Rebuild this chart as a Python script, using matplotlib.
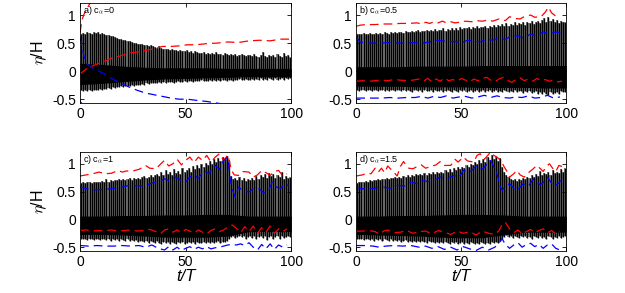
import numpy as np
import matplotlib.pyplot as plt

plt.rcParams['font.family'] = ['Liberation Sans', 'DejaVu Sans']
plt.rcParams['mathtext.fontset'] = 'cm'

# wave crest / trough of each period (t/T = 0.5 ... 99.5)
crest_a = [0.66, 0.68, 0.67, 0.69, 0.68, 0.67, 0.69, 0.68, 0.70, 0.67,
           0.68, 0.66, 0.65, 0.64, 0.63, 0.62, 0.60, 0.59, 0.58, 0.57,
           0.56, 0.55, 0.54, 0.53, 0.52, 0.51, 0.50, 0.49, 0.48, 0.48,
           0.47, 0.46, 0.45, 0.46, 0.44, 0.43, 0.42, 0.44, 0.41, 0.40,
           0.40, 0.39, 0.38, 0.40, 0.37, 0.37, 0.36, 0.38, 0.35, 0.36,
           0.37, 0.34, 0.35, 0.33, 0.36, 0.34, 0.33, 0.32, 0.34, 0.31,
           0.32, 0.30, 0.33, 0.31, 0.34, 0.30, 0.31, 0.29, 0.32, 0.30,
           0.29, 0.31, 0.28, 0.30, 0.27, 0.29, 0.30, 0.28, 0.27, 0.29,
           0.28, 0.27, 0.30, 0.27, 0.26, 0.28, 0.34, 0.27, 0.26, 0.29,
           0.27, 0.28, 0.26, 0.30, 0.27, 0.26, 0.32, 0.27, 0.28, 0.26]
trough_a = [-0.33, -0.35, -0.34, -0.36, -0.34, -0.35, -0.33, -0.34, -0.33, -0.32,
            -0.33, -0.31, -0.32, -0.30, -0.31, -0.29, -0.30, -0.28, -0.29, -0.27,
            -0.28, -0.27, -0.26, -0.27, -0.25, -0.26, -0.24, -0.25, -0.24, -0.23,
            -0.24, -0.22, -0.23, -0.22, -0.21, -0.22, -0.21, -0.20, -0.21, -0.20,
            -0.21, -0.19, -0.20, -0.19, -0.21, -0.19, -0.18, -0.20, -0.19, -0.18,
            -0.19, -0.18, -0.17, -0.19, -0.18, -0.17, -0.18, -0.16, -0.18, -0.17,
            -0.17, -0.16, -0.18, -0.16, -0.17, -0.15, -0.17, -0.16, -0.15, -0.17,
            -0.16, -0.15, -0.17, -0.15, -0.16, -0.14, -0.16, -0.15, -0.14, -0.16,
            -0.15, -0.14, -0.16, -0.14, -0.15, -0.13, -0.16, -0.14, -0.15, -0.13,
            -0.14, -0.15, -0.13, -0.15, -0.14, -0.13, -0.15, -0.13, -0.14, -0.13]

crest_b = [0.66, 0.67, 0.66, 0.68, 0.67, 0.66, 0.68, 0.67, 0.66, 0.68,
           0.67, 0.68, 0.67, 0.69, 0.68, 0.67, 0.69, 0.68, 0.70, 0.68,
           0.69, 0.70, 0.68, 0.71, 0.69, 0.70, 0.72, 0.69, 0.71, 0.73,
           0.70, 0.72, 0.71, 0.74, 0.72, 0.73, 0.71, 0.75, 0.72, 0.74,
           0.73, 0.76, 0.72, 0.75, 0.74, 0.77, 0.73, 0.76, 0.74, 0.78,
           0.75, 0.77, 0.76, 0.79, 0.75, 0.78, 0.77, 0.80, 0.76, 0.79,
           0.78, 0.81, 0.77, 0.80, 0.79, 0.83, 0.78, 0.82, 0.80, 0.84,
           0.81, 0.85, 0.80, 0.84, 0.83, 0.87, 0.82, 0.86, 0.84, 0.88,
           0.83, 0.87, 0.85, 0.89, 0.84, 0.88, 0.90, 0.86, 0.91, 0.94,
           0.88, 0.97, 0.90, 0.93, 0.87, 0.91, 0.86, 0.89, 0.87, 0.88]
trough_b = [-0.33, -0.35, -0.34, -0.33, -0.35, -0.34, -0.33, -0.35, -0.34, -0.33,
            -0.35, -0.33, -0.34, -0.36, -0.33, -0.35, -0.34, -0.33, -0.36, -0.34,
            -0.33, -0.35, -0.34, -0.36, -0.33, -0.35, -0.37, -0.34, -0.33, -0.36,
            -0.34, -0.37, -0.33, -0.35, -0.36, -0.34, -0.38, -0.33, -0.35, -0.36,
            -0.34, -0.37, -0.35, -0.33, -0.36, -0.38, -0.34, -0.35, -0.37, -0.33,
            -0.36, -0.34, -0.38, -0.35, -0.33, -0.37, -0.35, -0.34, -0.38, -0.36,
            -0.34, -0.37, -0.35, -0.33, -0.38, -0.36, -0.34, -0.37, -0.35, -0.38,
            -0.34, -0.36, -0.38, -0.35, -0.37, -0.34, -0.38, -0.36, -0.35, -0.39,
            -0.36, -0.38, -0.35, -0.39, -0.37, -0.36, -0.40, -0.38, -0.41, -0.37,
            -0.40, -0.42, -0.38, -0.41, -0.39, -0.37, -0.40, -0.36, -0.38, -0.37]

crest_c = [0.66, 0.67, 0.66, 0.68, 0.67, 0.66, 0.68, 0.67, 0.68, 0.67,
           0.69, 0.68, 0.72, 0.68, 0.70, 0.69, 0.71, 0.70, 0.72, 0.70,
           0.73, 0.71, 0.72, 0.74, 0.71, 0.74, 0.73, 0.75, 0.72, 0.76,
           0.78, 0.74, 0.77, 0.80, 0.76, 0.79, 0.82, 0.78, 0.85, 0.80,
           0.88, 0.82, 0.86, 0.80, 0.90, 0.84, 0.87, 0.82, 0.92, 0.86,
           0.88, 0.93, 0.86, 0.96, 0.90, 0.98, 0.92, 1.00, 0.95, 1.02,
           0.97, 1.05, 1.00, 1.08, 1.03, 1.10, 1.05, 1.12, 1.08, 1.14,
           1.06, 0.78, 0.72, 0.75, 0.70, 0.76, 0.71, 0.74, 0.69, 0.72,
           0.70, 0.74, 0.71, 0.78, 0.73, 0.80, 0.76, 0.82, 0.75, 0.84,
           0.78, 0.82, 0.74, 0.80, 0.76, 0.85, 0.72, 0.78, 0.74, 0.76]
trough_c = [-0.35, -0.36, -0.35, -0.37, -0.36, -0.35, -0.37, -0.36, -0.35, -0.37,
            -0.36, -0.35, -0.37, -0.36, -0.38, -0.35, -0.37, -0.36, -0.38, -0.36,
            -0.37, -0.39, -0.36, -0.38, -0.37, -0.39, -0.37, -0.40, -0.38, -0.39,
            -0.40, -0.38, -0.42, -0.39, -0.41, -0.43, -0.39, -0.42, -0.44, -0.40,
            -0.43, -0.41, -0.44, -0.40, -0.42, -0.45, -0.41, -0.43, -0.40, -0.44,
            -0.42, -0.40, -0.43, -0.41, -0.44, -0.40, -0.42, -0.43, -0.40, -0.42,
            -0.41, -0.43, -0.40, -0.42, -0.41, -0.39, -0.42, -0.40, -0.41, -0.38,
            -0.36, -0.32, -0.30, -0.33, -0.31, -0.29, -0.32, -0.30, -0.35, -0.31,
            -0.29, -0.33, -0.30, -0.36, -0.31, -0.29, -0.34, -0.30, -0.37, -0.31,
            -0.30, -0.35, -0.31, -0.29, -0.36, -0.30, -0.33, -0.31, -0.29, -0.32]

crest_d = [0.66, 0.67, 0.68, 0.67, 0.69, 0.68, 0.70, 0.69, 0.71, 0.70,
           0.72, 0.71, 0.73, 0.72, 0.74, 0.73, 0.75, 0.74, 0.76, 0.74,
           0.76, 0.75, 0.78, 0.76, 0.79, 0.77, 0.80, 0.78, 0.81, 0.79,
           0.82, 0.79, 0.83, 0.80, 0.84, 0.81, 0.85, 0.82, 0.86, 0.83,
           0.86, 0.84, 0.88, 0.85, 0.90, 0.86, 0.92, 0.88, 0.94, 0.90,
           0.95, 0.92, 0.98, 0.94, 1.00, 0.97, 1.03, 0.99, 1.06, 1.02,
           1.08, 1.04, 1.12, 1.06, 1.15, 1.08, 1.13, 1.05, 1.10, 0.95,
           0.86, 0.80, 0.76, 0.72, 0.70, 0.73, 0.69, 0.72, 0.70, 0.74,
           0.72, 0.76, 0.74, 0.79, 0.76, 0.82, 0.78, 0.87, 0.80, 0.84,
           0.82, 0.86, 0.80, 0.88, 0.83, 0.86, 0.84, 0.90, 0.86, 0.92]
trough_d = [-0.35, -0.36, -0.35, -0.37, -0.36, -0.35, -0.37, -0.36, -0.38, -0.36,
            -0.37, -0.35, -0.38, -0.36, -0.37, -0.39, -0.36, -0.38, -0.37, -0.39,
            -0.37, -0.40, -0.38, -0.37, -0.40, -0.38, -0.41, -0.38, -0.40, -0.39,
            -0.41, -0.38, -0.40, -0.42, -0.39, -0.41, -0.40, -0.43, -0.40, -0.42,
            -0.41, -0.43, -0.40, -0.42, -0.44, -0.41, -0.43, -0.40, -0.44, -0.42,
            -0.41, -0.44, -0.42, -0.45, -0.41, -0.43, -0.45, -0.42, -0.44, -0.41,
            -0.43, -0.45, -0.42, -0.44, -0.41, -0.43, -0.40, -0.42, -0.38, -0.35,
            -0.31, -0.28, -0.32, -0.30, -0.33, -0.29, -0.31, -0.34, -0.30, -0.32,
            -0.29, -0.33, -0.31, -0.35, -0.30, -0.32, -0.34, -0.29, -0.33, -0.31,
            -0.35, -0.30, -0.32, -0.36, -0.31, -0.33, -0.29, -0.34, -0.31, -0.30]

# densest (solid black) part of the record, every 10 T
core_t = [0, 10, 20, 30, 40, 50, 60, 70, 80, 90, 100]
core_hi = {'a': [0.14, 0.12, 0.09, 0.07, 0.06, 0.06, 0.06, 0.05, 0.05, 0.05, 0.05],
           'b': [0.08, 0.08, 0.08, 0.09, 0.09, 0.09, 0.10, 0.10, 0.10, 0.10, 0.10],
           'c': [0.06, 0.06, 0.07, 0.07, 0.08, 0.08, 0.09, 0.09, 0.06, 0.06, 0.06],
           'd': [0.06, 0.06, 0.07, 0.07, 0.08, 0.09, 0.09, 0.08, 0.06, 0.06, 0.06]}
core_lo = {'a': [-0.24, -0.22, -0.19, -0.16, -0.14, -0.13, -0.12, -0.11, -0.10, -0.10, -0.10],
           'b': [-0.27, -0.27, -0.27, -0.28, -0.28, -0.28, -0.29, -0.29, -0.29, -0.30, -0.30],
           'c': [-0.27, -0.27, -0.28, -0.30, -0.32, -0.32, -0.32, -0.30, -0.22, -0.22, -0.22],
           'd': [-0.27, -0.28, -0.29, -0.30, -0.32, -0.33, -0.33, -0.28, -0.23, -0.23, -0.23]}

# dashed envelopes (t/T, eta/H)
red_up = {
    'a': [(0, 0.68), (1, 0.92), (2, 1.02), (3, 1.10), (4, 1.16), (5, 1.23)],
    'b': [(0, 0.80), (2, 0.82), (5, 0.83), (9, 0.83), (13, 0.84), (17, 0.84), (21, 0.85),
          (25, 0.85), (29, 0.86), (31, 0.84), (33, 0.87), (35, 0.85), (37, 0.88), (39, 0.86),
          (41, 0.89), (43, 0.86), (45, 0.88), (47, 0.86), (49, 0.87), (52, 0.89), (55, 0.88),
          (57, 0.90), (60, 0.89), (63, 0.91), (65, 0.89), (68, 0.93), (71, 0.90), (73, 0.97),
          (75, 0.94), (78, 0.93), (80, 0.97), (83, 1.00), (85, 0.96), (88, 0.97), (90, 1.05),
          (91.5, 1.14), (93, 1.04), (95, 0.98), (97, 1.00)],
    'c': [(0, 0.78), (3, 0.80), (6, 0.82), (9, 0.85), (12, 0.82), (15, 0.83), (18, 0.88),
          (20, 0.85), (22, 0.87), (25, 0.87), (28, 0.90), (31, 0.97), (33, 0.92), (36, 0.91),
          (38, 0.99), (40, 1.06), (42, 0.96), (44, 1.00), (46, 1.08), (48, 0.98), (50, 1.06),
          (52, 1.12), (54, 1.02), (56, 1.12), (58, 1.06), (60, 1.15), (62, 1.03), (64, 1.12),
          (66, 1.18), (68, 1.06), (70, 1.16), (71.5, 0.90), (73, 0.80), (75, 0.79), (77, 0.86),
          (80, 0.85), (82, 0.76), (84, 0.80), (86, 0.88), (88, 0.84), (90, 0.79), (92, 0.86),
          (94, 0.88), (96, 0.78), (98, 0.82)],
    'd': [(0, 0.78), (3, 0.80), (5, 0.83), (7, 0.82), (9, 0.92), (10.5, 0.85), (12, 0.92),
          (13.5, 0.84), (15, 0.96), (17, 0.88), (19.5, 0.78), (21, 0.95), (22.5, 1.04),
          (25, 0.92), (27, 0.91), (29, 0.95), (31, 0.98), (33, 0.92), (35.5, 0.95), (38, 0.98),
          (40, 1.04), (42, 0.97), (45, 0.97), (47, 1.08), (48.5, 1.03), (51, 1.12), (53, 1.05),
          (56, 1.03), (57.5, 1.15), (59, 1.18), (61, 1.08), (64, 1.21), (65.5, 1.15), (67, 1.12),
          (69, 1.05), (70.5, 0.94), (72, 0.85), (73, 0.76), (75, 0.82), (76.5, 0.88), (78, 0.80),
          (80, 0.76), (82, 0.84), (84, 0.90), (86, 0.97), (88, 0.90), (89, 0.86), (90.5, 0.95),
          (92, 1.00), (93.5, 0.92), (95, 0.86), (96.5, 0.97), (98, 0.95)],
}
red_lo = {
    'a': [(0, -0.05), (3, 0.04), (7, 0.11), (11, 0.17), (15, 0.23), (19, 0.27), (23, 0.32),
          (27, 0.34), (31, 0.37), (35, 0.40), (39, 0.44), (43, 0.44), (47, 0.45), (51, 0.47),
          (55, 0.47), (60, 0.49), (65, 0.50), (70, 0.52), (75, 0.51), (80, 0.54), (85, 0.55),
          (90, 0.54), (95, 0.57), (100, 0.57)],
    'b': [(0, -0.18), (3, -0.17), (6, -0.18), (9, -0.17), (12, -0.16), (15, -0.17), (18, -0.15),
          (21, -0.16), (24, -0.17), (27, -0.16), (30, -0.14), (32, -0.18), (34, -0.13),
          (36, -0.19), (38, -0.14), (40, -0.18), (42, -0.12), (44, -0.17), (46, -0.15),
          (48, -0.18), (50, -0.13), (52, -0.16), (54, -0.19), (56, -0.14), (58, -0.17),
          (60, -0.13), (62, -0.11), (64, -0.16), (66, -0.19), (68, -0.14), (70, -0.11),
          (72, -0.16), (74, -0.20), (76, -0.15), (78, -0.12), (80, -0.17), (82, -0.14),
          (84, -0.18), (86, -0.13), (88, -0.17), (90, -0.15), (92, -0.18), (94, -0.16),
          (96, -0.19), (98, -0.18)],
    'c': [(0, -0.20), (3, -0.19), (6, -0.21), (9, -0.20), (12, -0.20), (15, -0.19), (18, -0.21),
          (21, -0.20), (24, -0.19), (27, -0.21), (30, -0.20), (33, -0.18), (36, -0.22),
          (38, -0.26), (40, -0.19), (42, -0.17), (44, -0.23), (46, -0.19), (48, -0.24),
          (50, -0.18), (52, -0.21), (54, -0.25), (56, -0.19), (58, -0.23), (60, -0.26),
          (62, -0.20), (64, -0.17), (66, -0.22), (68, -0.19), (70, -0.14), (72, -0.10),
          (74, -0.16), (76, -0.24), (78, -0.13), (80, -0.22), (82, -0.12), (84, -0.25),
          (86, -0.15), (88, -0.23), (90, -0.12), (92, -0.25), (94, -0.17), (96, -0.22),
          (98, -0.17)],
    'd': [(0, -0.21), (3, -0.21), (6, -0.20), (9, -0.22), (11, -0.27), (13, -0.21), (15, -0.19),
          (18, -0.24), (21, -0.23), (24, -0.20), (27, -0.25), (30, -0.22), (33, -0.21),
          (36, -0.26), (39, -0.20), (42, -0.23), (45, -0.27), (48, -0.21), (51, -0.25),
          (54, -0.22), (57, -0.28), (60, -0.21), (63, -0.25), (66, -0.27), (68, -0.20),
          (69.5, -0.09), (71, -0.05), (73, -0.17), (75, -0.24), (77, -0.19), (79, -0.26),
          (81, -0.22), (83, -0.18), (85, -0.24), (87, -0.20), (89, -0.17), (91, -0.24),
          (93, -0.20), (95, -0.26), (97, -0.21)],
}
blue_up = {
    'a': [(0, 0.61), (1, 0.42), (2, 0.25), (3, 0.14), (5, 0.07), (8, 0.02), (12, -0.06),
          (15, -0.13), (19, -0.21), (23, -0.28), (27, -0.34), (31, -0.39), (35, -0.42),
          (39, -0.45), (43, -0.48), (47, -0.50), (51, -0.50), (55, -0.52), (60, -0.54),
          (65, -0.57), (68, -0.59)],
    'b': [(0, 0.60), (2, 0.52), (4, 0.50), (8, 0.50), (12, 0.50), (16, 0.51), (20, 0.50),
          (24, 0.50), (28, 0.51), (32, 0.50), (35, 0.52), (38, 0.55), (41, 0.54), (44, 0.52),
          (47, 0.53), (50, 0.50), (53, 0.55), (56, 0.54), (59, 0.52), (62, 0.57), (65, 0.55),
          (68, 0.60), (71, 0.56), (74, 0.64), (77, 0.62), (80, 0.59), (83, 0.66), (86, 0.62),
          (89, 0.70), (92, 0.66), (95, 0.70), (98, 0.67)],
    'c': [(0, 0.58), (3, 0.55), (7, 0.53), (11, 0.54), (15, 0.55), (19, 0.57), (23, 0.61),
          (27, 0.60), (31, 0.61), (34, 0.65), (37, 0.67), (40, 0.73), (42, 0.70), (45, 0.76),
          (47, 0.72), (50, 0.67), (52, 0.76), (54, 0.80), (56, 0.74), (59, 0.88), (61, 0.82),
          (64, 0.97), (66, 0.90), (68, 1.06), (70, 1.12), (71, 0.75), (72, 0.55), (73.5, 0.40),
          (75, 0.58), (77, 0.52), (80, 0.49), (82, 0.55), (85, 0.55), (87, 0.47), (89, 0.50),
          (91, 0.67), (93, 0.58), (95, 0.56), (97, 0.64), (99, 0.60)],
    'd': [(0, 0.58), (3, 0.55), (7, 0.55), (10, 0.57), (13, 0.58), (16, 0.56), (19.5, 0.61),
          (23, 0.60), (26, 0.67), (29, 0.64), (31, 0.70), (34, 0.68), (37, 0.70), (40, 0.76),
          (43, 0.73), (46.5, 0.79), (49, 0.76), (51, 0.88), (54, 0.85), (57.5, 0.97), (60, 0.90),
          (64, 1.06), (65.5, 0.95), (67, 0.82), (68.5, 0.60), (69.5, 0.52), (71, 0.60),
          (73, 0.64), (75, 0.56), (76.5, 0.52), (78, 0.58), (79.5, 0.64), (82, 0.60),
          (84.5, 0.73), (86, 0.68), (87.5, 0.62), (89, 0.66), (91, 0.76), (92.5, 0.68),
          (94, 0.58), (96, 0.64), (97.5, 0.70)],
}
blue_lo = {
    'a': [(0, -0.54), (1, -0.58), (2, -0.62)],
    'b': [(0, -0.48), (4, -0.48), (8, -0.48), (12, -0.48), (16, -0.47), (20, -0.48), (24, -0.47),
          (28, -0.47), (31, -0.45), (34, -0.48), (37, -0.45), (40, -0.47), (43, -0.44),
          (46, -0.48), (49, -0.46), (52, -0.45), (55, -0.48), (58, -0.46), (61, -0.43),
          (64, -0.47), (67, -0.44), (70, -0.47), (73, -0.48), (76, -0.46), (79, -0.47),
          (82, -0.44), (85, -0.48), (88, -0.47), (91, -0.43), (94, -0.48), (97, -0.46)],
    'c': [(0, -0.47), (4, -0.48), (8, -0.47), (12, -0.48), (16, -0.48), (20, -0.47), (24, -0.48),
          (28, -0.47), (31, -0.50), (34, -0.46), (37, -0.52), (40, -0.55), (42, -0.49),
          (44, -0.55), (46, -0.50), (48, -0.56), (50, -0.52), (52, -0.49), (54, -0.54),
          (56, -0.50), (58, -0.53), (60, -0.49), (62, -0.53), (64, -0.51), (66, -0.50),
          (68, -0.48), (70, -0.46), (72, -0.45), (74, -0.46), (76, -0.44), (78, -0.47),
          (80, -0.42), (82, -0.50), (84, -0.55), (86, -0.45), (88, -0.53), (90, -0.44),
          (92, -0.54), (94, -0.46), (96, -0.50), (98, -0.46)],
    'd': [(0, -0.47), (4, -0.47), (8, -0.48), (11, -0.50), (14, -0.48), (18, -0.47), (22, -0.48),
          (26, -0.47), (30, -0.50), (33, -0.48), (36, -0.52), (39, -0.49), (42, -0.54),
          (45, -0.50), (48, -0.55), (51, -0.49), (54, -0.53), (57, -0.56), (60, -0.50),
          (63, -0.55), (66, -0.50), (68, -0.42), (69.5, -0.35), (71, -0.45), (73, -0.52),
          (75, -0.46), (77, -0.42), (79, -0.50), (81, -0.45), (83, -0.43), (85, -0.49),
          (87, -0.45), (89, -0.52), (91, -0.46), (93, -0.44), (95, -0.52), (97, -0.55)],
}

panels = ['a', 'b', 'c', 'd']
labels = {'a': r'a) c$_\alpha$=0', 'b': r'b) c$_\alpha$=0.5',
          'c': r'c) c$_\alpha$=1', 'd': r'd) c$_\alpha$=1.5'}
crests = {'a': crest_a, 'b': crest_b, 'c': crest_c, 'd': crest_d}
troughs = {'a': trough_a, 'b': trough_b, 'c': trough_c, 'd': trough_d}

fig = plt.figure(figsize=(6.25, 2.93), dpi=100)
boxes = {'a': [0.128, 0.648, 0.338, 0.341], 'b': [0.570, 0.648, 0.336, 0.341],
         'c': [0.128, 0.143, 0.338, 0.338], 'd': [0.570, 0.143, 0.336, 0.338]}

t_wave = np.arange(100) + 0.5

for p in panels:
    ax = fig.add_axes(boxes[p])
    cr = np.array(crests[p])
    tr = np.array(troughs[p])
    ax.fill_between(t_wave, tr, cr, color='0.5', lw=0, step='mid')
    ax.vlines(t_wave, tr, cr, color='k', lw=1.0)
    ax.fill_between(core_t, core_lo[p], core_hi[p], color='k', lw=0)

    for env, col in [(red_up, 'r'), (red_lo, 'r'), (blue_up, 'b'), (blue_lo, 'b')]:
        tt, yy = zip(*env[p])
        ax.plot(tt, yy, color=col, lw=0.9, dashes=(7, 4))

    ax.set_xlim(0, 100)
    ax.set_ylim(-0.57, 1.21)
    ax.set_xticks([0, 50, 100])
    ax.set_yticks([-0.5, 0, 0.5, 1])
    ax.set_yticklabels(['-0.5', '0', '0.5', '1'])
    ax.tick_params(direction='in', top=True, right=True, length=3, width=0.6,
                   labelsize=10, pad=3)
    for s in ax.spines.values():
        s.set_linewidth(0.6)
    ax.text(1.2, 1.08, labels[p], fontsize=6.5, va='center', ha='left')
    if p in ('a', 'c'):
        ax.set_ylabel(r'$\eta$/H', fontsize=11.5, labelpad=2)
    if p in ('c', 'd'):
        ax.set_xlabel('t/T', fontsize=12, fontstyle='italic', labelpad=0)

fig.savefig('out.png', dpi=100)
